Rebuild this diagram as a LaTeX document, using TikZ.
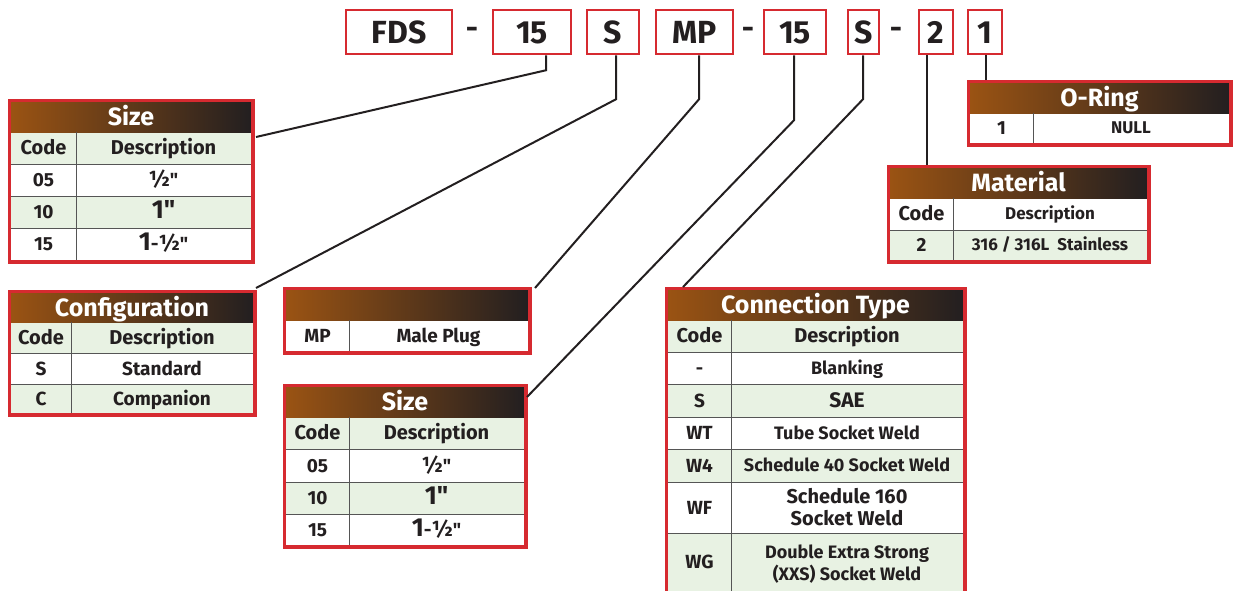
\documentclass[tikz,border=0pt]{standalone}
\usepackage{fontspec}
\setmainfont{Fira Sans}[Ligatures=TeXOff]
\definecolor{redb}{HTML}{D62A30}
\definecolor{hdrL}{HTML}{9A5313}
\definecolor{hdrM}{HTML}{6C4A30}
\definecolor{hdrR}{HTML}{231F20}
\definecolor{grn}{HTML}{E8F2E3}
\definecolor{gridc}{HTML}{555555}
\definecolor{txt}{HTML}{231F20}
\newcommand\fsz[1]{\fontsize{#1}{#1}\selectfont}
\tikzset{
  codebox/.style={draw=redb, line width=2.5pt, inner sep=0pt, text=txt,
    font=\bfseries\fsz{32}, text height=22pt, text depth=0pt},
  dashtext/.style={text=txt, font=\bfseries\fsz{30}, inner sep=0pt},
  tborder/.style={draw=redb, line width=3.5pt},
  gridline/.style={draw=gridc, line width=1pt},
  link/.style={draw=txt, line width=2pt},
  hdrshade/.style={left color=hdrL, middle color=hdrM, right color=hdrR, shading angle=90},
  hdrtext/.style={text=white, font=\bfseries\fsz{25}, inner sep=0pt, text height=17.2pt, text depth=0pt},
  colhead/.style={text=txt, font=\bfseries\fsz{20}, inner sep=0pt, text height=13.8pt, text depth=0pt},
  cell/.style={text=txt, font=\bfseries\fsz{19}, inner sep=0pt, text height=13.1pt, text depth=0pt},
  smallcell/.style={cell, font=\bfseries\fsz{17}, text height=11.7pt},
  ctcell/.style={cell, font=\bfseries\fsz{18}, text height=12.4pt},
}
\newcommand\bigone[1]{{\fsz{26}#1}}
\newcommand\half{{\fsz{22}½}}
\begin{document}
\begin{tikzpicture}[x=1pt,y=-1pt]
\useasboundingbox (0,0) rectangle (1233,590);
\clip (0,0) rectangle (1233,590);
% ---------------- top code boxes ----------------
\node[codebox, minimum width=106, minimum height=44] (fds) at (399,32) {FDS};
\node[dashtext] (d1) at (472,33) {-};
\node[codebox, minimum width=78, minimum height=44] (sza) at (532,32) {15};
\node[codebox, minimum width=52, minimum height=44] (sa) at (613,32) {S};
\node[codebox, minimum width=77, minimum height=44] (mp) at (694.5,32) {MP};
\node[dashtext] (d2) at (748,33) {-};
\node[codebox, minimum width=62, minimum height=44] (szb) at (795,32) {15};
\node[codebox, minimum width=31, minimum height=44] (sb) at (863.5,32) {S};
\node[dashtext] (d3) at (896,33) {-};
\node[codebox, minimum width=34, minimum height=44] (mat) at (936,32) {2};
\node[codebox, minimum width=34, minimum height=44] (orc) at (985,32) {1};

% ---------------- Size table (left) ----------------
\fill[grn] (11,132) rectangle (251,164);
\fill[grn] (11,196) rectangle (251,228);
\shade[hdrshade] (11,102) rectangle (251,132);
\draw[gridline] (11,164) -- (251,164) (11,196) -- (251,196) (11,228) -- (251,228) (76,132) -- (76,260);
\draw[tborder] (9.25,100.25) rectangle (252.75,261.75);
\node[hdrtext] (t1h) at (131,117) {Size};
\node[colhead] (t1c) at (43.5,148) {Code};
\node[colhead] (t1d) at (163.5,148) {Description};
\node[cell] (t1a1) at (43.5,180) {05};
\node[cell] (t1a2) at (163.5,180) {\half"};
\node[cell] (t1b1) at (43.5,212) {10};
\node[cell] (t1b2) at (163.5,212) {\bigone{1"}};
\node[cell] (t1c1) at (43.5,244) {15};
\node[cell] (t1c2) at (163.5,244) {\bigone{1}-\half"};
\coordinate (t1end) at (256,137);

% ---------------- Configuration ----------------
\fill[grn] (11,322) rectangle (253,353);
\fill[grn] (11,384) rectangle (253,413);
\shade[hdrshade] (11,293) rectangle (253,322);
\draw[gridline] (11,353) -- (253,353) (11,384) -- (253,384) (71,322) -- (71,413);
\draw[tborder] (9.25,291.25) rectangle (254.75,414.75);
\node[hdrtext] (t2h) at (132,307.5) {Configuration};
\node[colhead] (t2c) at (41,337.5) {Code};
\node[colhead] (t2d) at (162,337.5) {Description};
\node[cell] (t2a1) at (41,368.5) {S};
\node[cell] (t2a2) at (162,368.5) {Standard};
\node[cell] (t2b1) at (41,398.5) {C};
\node[cell] (t2b2) at (162,398.5) {Companion};
\coordinate (t2end) at (256,288);

% ---------------- MP ----------------
\shade[hdrshade] (286,290) rectangle (528,320);
\draw[gridline] (349,320) -- (349,351);
\draw[tborder] (284.25,288.25) rectangle (529.75,352.75);
\node[cell] (t3a1) at (317.5,335.5) {MP};
\node[cell] (t3a2) at (438.5,335.5) {Male Plug};
\coordinate (t3end) at (535,288);

% ---------------- Size table 2 ----------------
\fill[grn] (286,417) rectangle (524,449);
\fill[grn] (286,482) rectangle (524,514);
\shade[hdrshade] (286,387) rectangle (524,417);
\draw[gridline] (286,449) -- (524,449) (286,482) -- (524,482) (286,514) -- (524,514) (349,417) -- (349,545);
\draw[tborder] (284.25,385.25) rectangle (525.75,546.75);
\node[hdrtext] (t4h) at (405,402) {Size};
\node[colhead] (t4c) at (317.5,433) {Code};
\node[colhead] (t4d) at (436.5,433) {Description};
\node[cell] (t4a1) at (317.5,465.5) {05};
\node[cell] (t4a2) at (436.5,465.5) {\half"};
\node[cell] (t4b1) at (317.5,498) {10};
\node[cell] (t4b2) at (436.5,498) {\bigone{1"}};
\node[cell] (t4c1) at (317.5,529.5) {15};
\node[cell] (t4c2) at (436.5,529.5) {\bigone{1}-\half"};
\coordinate (t4end) at (527,397);

% ---------------- Connection Type ----------------
\fill[grn] (668,320) rectangle (963,352);
\fill[grn] (668,384) rectangle (963,417);
\fill[grn] (668,449) rectangle (963,482);
\fill[grn] (668,533) rectangle (963,592);
\shade[hdrshade] (668,290) rectangle (963,320);
\draw[gridline] (668,352) -- (963,352) (668,384) -- (963,384) (668,417) -- (963,417)
  (668,449) -- (963,449) (668,482) -- (963,482) (668,533) -- (963,533) (731,320) -- (731,592);
\draw[tborder] (666.25,595) -- (666.25,288.25) -- (964.75,288.25) -- (964.75,595);
\node[hdrtext] (t5h) at (815.5,305) {Connection Type};
\node[colhead] (t5c) at (699.5,336) {Code};
\node[colhead] (t5d) at (847,336) {Description};
\node[ctcell] (t5a1) at (699.5,368) {-};
\node[ctcell] (t5a2) at (847,368) {Blanking};
\node[cell] (t5b1) at (699.5,400.5) {S};
\node[cell, font=\bfseries\fsz{21}, text height=14.5pt] (t5b2) at (847,400.5) {SAE};
\node[cell] (t5c1) at (699.5,433) {WT};
\node[ctcell] (t5c2) at (847,433) {Tube Socket Weld};
\node[cell] (t5d1) at (699.5,465.5) {W4};
\node[ctcell] (t5d2) at (847,465.5) {Schedule 40 Socket Weld};
\node[cell] (t5e1) at (699.5,507.5) {WF};
\node[cell, font=\bfseries\fsz{20}, text height=13.8pt] (t5e2a) at (847,497) {Schedule 160};
\node[cell, font=\bfseries\fsz{20}, text height=13.8pt] (t5e2b) at (847,519) {Socket Weld};
\node[cell] (t5f1) at (699.5,561.5) {WG};
\node[ctcell] (t5f2a) at (847,552.5) {Double Extra Strong};
\node[ctcell] (t5f2b) at (847,574.5) {(XXS) Socket Weld};
\coordinate (t5end) at (683,287);

% ---------------- Material ----------------
\fill[grn] (890,230) rectangle (1147,260);
\shade[hdrshade] (890,168) rectangle (1147,198);
\draw[gridline] (890,230) -- (1147,230) (953,198) -- (953,260);
\draw[tborder] (888.25,166.25) rectangle (1148.75,261.75);
\node[hdrtext] (t6h) at (1018.5,183) {Material};
\node[colhead] (t6c) at (921.5,214) {Code};
\node[smallcell] (t6d) at (1050,214) {Description};
\node[cell] (t6a1) at (921.5,245) {2};
\node[smallcell] (t6a2) at (1050,245) {316 / 316L\ \ Stainless};
\coordinate (t6end) at (927,165);

% ---------------- O-Ring ----------------
\shade[hdrshade] (970,83) rectangle (1229,113);
\draw[gridline] (1033,113) -- (1033,143);
\draw[tborder] (968.25,81.25) rectangle (1230.75,144.75);
\node[hdrtext] (t7h) at (1099.5,98) {O-Ring};
\node[cell] (t7a1) at (1001.5,128) {1};
\node[smallcell] (t7a2) at (1131,128) {NULL};
\coordinate (t7end) at (986,80);

% ---------------- connectors ----------------
\draw[link] ([xshift=14pt]sza.south) -- ++(0,15) -- (t1end);
\draw[link] ([xshift=3pt]sa.south) -- ++(0,44) -- (t2end);
\draw[link] ([xshift=4.5pt]mp.south) -- ++(0,44) -- (t3end);
\draw[link] ([xshift=-1pt]szb.south) -- ++(0,65) -- (t4end);
\draw[link] ([xshift=-0.5pt]sb.south) -- ++(0,44) -- (t5end);
\draw[link] ([xshift=-9pt]mat.south) -- (t6end);
\draw[link] ([xshift=1pt]orc.south) -- (t7end);
\end{tikzpicture}
\end{document}
